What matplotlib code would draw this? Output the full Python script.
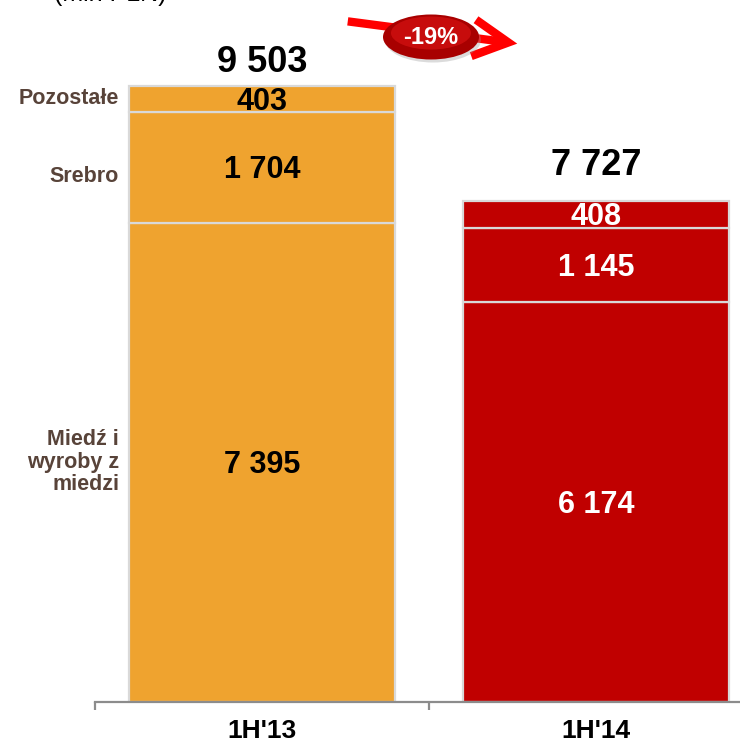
import matplotlib
matplotlib.use("Agg")
import matplotlib.pyplot as plt
from matplotlib.patches import Ellipse, FancyArrowPatch

plt.rcParams["font.family"] = ["Liberation Sans", "DejaVu Sans"]

# ---- data (mln PLN) ----
periods = ["1H'13", "1H'14"]
segments = ["Miedź i\nwyroby z\nmiedzi", "Srebro", "Pozostałe"]
vals_13 = [7395, 1704, 403]
vals_14 = [6174, 1145, 408]
totals = [9503, 7727]
change_label = "-19%"
unit_label = "(mln PLN)"

bar_colors = ["#efa32f", "#c00000"]
text_colors = ["black", "white"]
label_color = "#584339"

W, H = 740, 742
fig = plt.figure(figsize=(W / 100, H / 100), dpi=100)

# axis spans x=95..763 px (cropped on the right), baseline at y=702 px
x0, base = 95, 702
cat_px = 334
top_px = 86
scale = (base - top_px) / totals[0]
ax = fig.add_axes([x0 / W, (H - base) / H, 2 * cat_px / W, base / H])
ax.set_xlim(0, 2)
ax.set_ylim(0, base / scale)

def fmt(v):
    return f"{v:,}".replace(",", " ")

for i, vals in enumerate([vals_13, vals_14]):
    bottom = 0
    for v in vals:
        ax.bar(i + 0.5, v, bottom=bottom, width=0.795, color=bar_colors[i],
               edgecolor="#d9d9d9", linewidth=1.6)
        ax.annotate(fmt(v), (i + 0.5, bottom + v / 2), xytext=(0, -3 * 0.72),
                    textcoords="offset points", ha="center", va="center",
                    fontsize=22, fontweight="bold", color=text_colors[i])
        bottom += v

# totals above bars
total_offsets = [23, 36]  # px above bar top
for i, t in enumerate(totals):
    ax.annotate(fmt(t), (i + 0.5, t), xytext=(0, total_offsets[i] * 0.72),
                textcoords="offset points", ha="center", va="center",
                fontsize=26, fontweight="bold", color="black")

# segment names on the left of the first bar
bottom = 0
name_shift = [0, 9, -1]  # px, positive = down
for name, v, dy in zip(segments, vals_13, name_shift):
    ax.annotate(name, (0, bottom + v / 2), xytext=(24 * 0.72, -dy * 0.72),
                textcoords="offset points", ha="right", va="center",
                fontsize=15.5, fontweight="bold", color=label_color,
                linespacing=1.1, annotation_clip=False)
    bottom += v

# axes styling
for s in ["top", "right", "left"]:
    ax.spines[s].set_visible(False)
ax.spines["bottom"].set_color("#8c8c8c")
ax.spines["bottom"].set_linewidth(1.6)
ax.set_yticks([])
ax.set_xticks([0, 1, 2])
ax.set_xticklabels([])
ax.tick_params(axis="x", which="major", length=6, width=1.6, color="#8c8c8c")
ax.set_xticks([0.5, 1.5], periods, minor=True)
ax.tick_params(axis="x", which="minor", length=0, pad=12)
for lab in ax.get_xticklabels(minor=True):
    lab.set_fontsize(19)
    lab.set_fontweight("bold")

# unit label (cropped at top, as in the source slide)
fig.text(110 / W, 1 - 1 / H, unit_label, ha="center", va="baseline", fontsize=18)

# change arrow with badge
def fp(x, y):
    return (x / W, 1 - y / H)

arrow = FancyArrowPatch(fp(345, 21), fp(520, 44), transform=fig.transFigure,
                        arrowstyle="->,head_length=2.1,head_width=1.1",
                        color="#ff0000", linewidth=6, mutation_scale=12,
                        joinstyle="miter", capstyle="butt")
fig.add_artist(arrow)
cx, cy = fp(431, 37)
fig.add_artist(Ellipse((cx + 2 / W, cy - 3 / H), 96 / W, 45 / H, transform=fig.transFigure,
                       facecolor="#999999", alpha=0.35, edgecolor="none"))
fig.add_artist(Ellipse((cx, cy), 96 / W, 45 / H, transform=fig.transFigure,
                       facecolor="#a80000", edgecolor="none"))
fig.add_artist(Ellipse((cx, cy + 4 / H), 80 / W, 33 / H, transform=fig.transFigure,
                       facecolor="#d01010", edgecolor="none", alpha=0.8))
fig.text(cx, cy, change_label, ha="center", va="center", fontsize=17,
         fontweight="bold", color="white")

fig.savefig("out.png", dpi=100)
